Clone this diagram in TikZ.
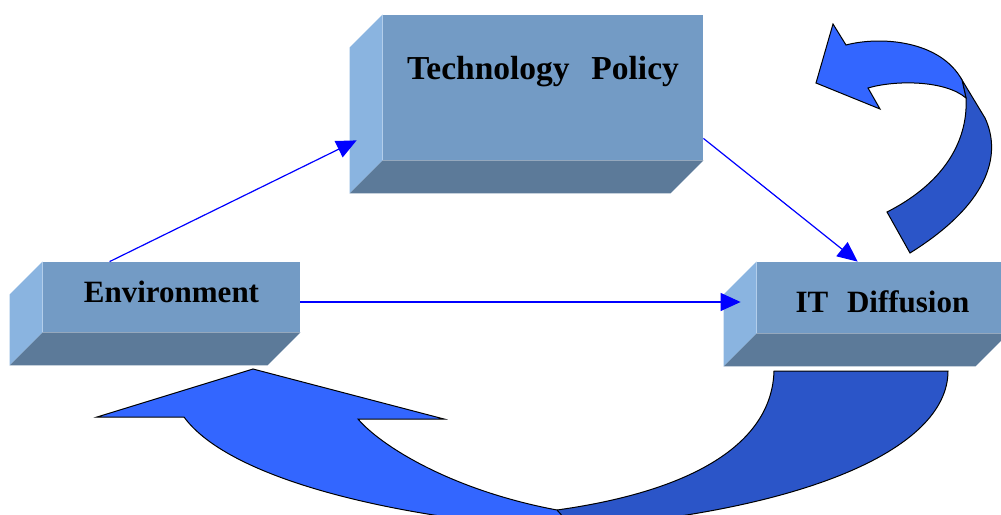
\documentclass[tikz,border=0pt]{standalone}
\usepackage{fontspec}
\setmainfont{Liberation Serif}
\usetikzlibrary{arrows.meta}
\definecolor{slabfront}{RGB}{115,155,197}
\definecolor{slabside}{RGB}{138,180,224}
\definecolor{slabbottom}{RGB}{92,122,153}
\definecolor{looplight}{RGB}{51,102,255}
\definecolor{loopdark}{RGB}{43,85,200}
\definecolor{linkblue}{RGB}{0,0,255}
\tikzset{
  slab/.style={fill=slabfront, inner sep=0pt, font=\fontsize{15.5}{18}\selectfont\bfseries,
    append after command={\pgfextra{
      \fill[slabside] (\tikzlastnode.north west) -- ++(-33,33) -- ([shift={(-33,33)}]\tikzlastnode.south west) -- (\tikzlastnode.south west) -- cycle;
      \fill[slabbottom] (\tikzlastnode.south west) -- (\tikzlastnode.south east) -- ([shift={(-33,33)}]\tikzlastnode.south east) -- ([shift={(-33,33)}]\tikzlastnode.south west) -- cycle;
    }}},
  link/.style={draw=linkblue, line width=0.6pt, -{Triangle[length=10pt,width=9pt]}},
  loop/.style={draw=black, line width=0.5pt}
}
\begin{document}
\begin{tikzpicture}[x=0.5pt, y=-0.5pt]
                \useasboundingbox (0,0) rectangle (1001,514);
                \clip (0,0) rectangle (1001,514);
                \node[slab, minimum width=160pt, text height=32pt, text depth=40.5pt, font=\fontsize{16.75}{19}\selectfont\bfseries] (policy) at (543,87.5) {Technology\hspace{0.65em}Policy};
                \node[slab, minimum width=128.5pt, text height=20pt, text depth=15pt] (env) at (171.5,297) {Environment};
                \node[slab, minimum width=125.5pt, text height=25pt, text depth=10.5pt] (diff) at (882.5,297.5) {IT\hspace{0.6em}Diffusion};
                \draw[link] ([shift={(67,0)}]env.north west) -- ([shift={(-26,-20)}]policy.south west);
                \draw[link] ([shift={(0,-22)}]policy.south east) -- ([shift={(101,0)}]diff.north west);
                \draw[link] ([shift={(0,5)}]env.east) -- ([shift={(-16,4.5)}]diff.west);
                \filldraw[loop, fill=loopdark] (948,371) .. controls (948,450) and (800,515) .. (545,530) -- (557,510) .. controls (700,490) and (772,440) .. (774,371) -- cycle;
                \filldraw[loop, fill=looplight] (253,369) -- (444,419) -- (358,419) .. controls (380,445) and (450,490) .. (557,510) -- (575,530) .. controls (400,520) and (230,480) .. (184,417) -- (97,417) -- cycle;
                \filldraw[loop, fill=loopdark] (962,80) -- (985,118) .. controls (1000,150) and (995,200) .. (910,253) -- (887,212) .. controls (950,180) and (968,135) .. (966,98) -- cycle;
                \filldraw[loop, fill=looplight] (816,83) -- (833,24) -- (846,45) .. controls (880,36) and (940,40) .. (962,80) -- (966,98) .. controls (945,80) and (895,80) .. (868,88) -- (880,109) -- cycle;
\end{tikzpicture}
\end{document}
